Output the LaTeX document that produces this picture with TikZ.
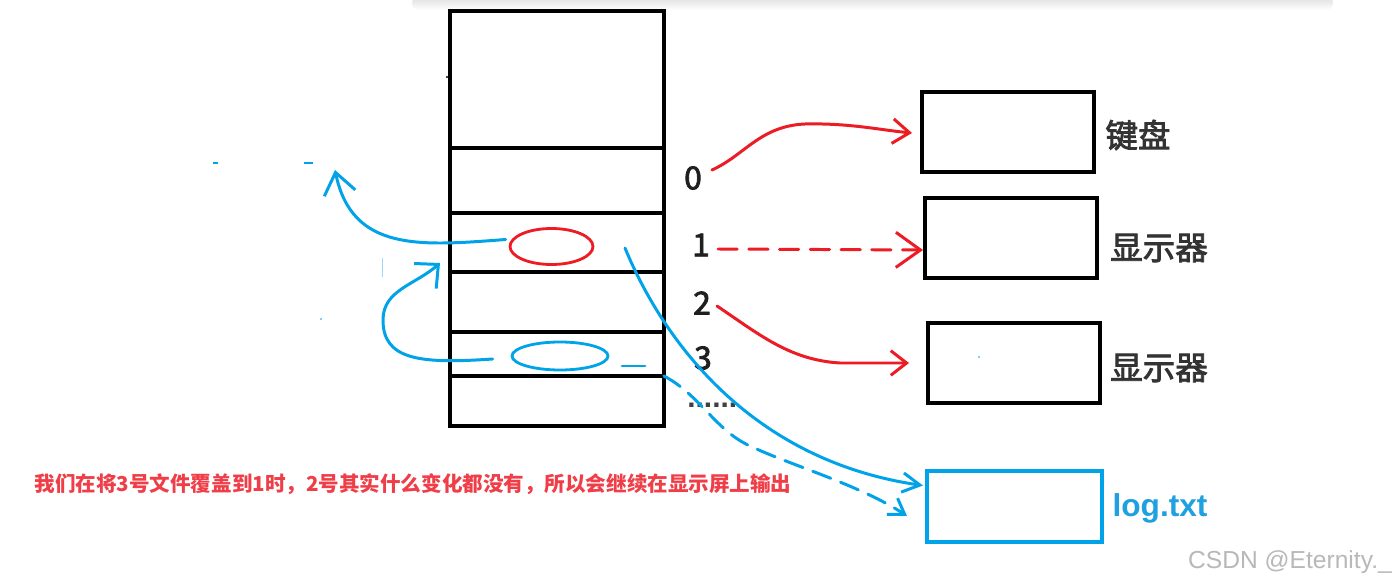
\documentclass[tikz,border=0pt]{standalone}
\usepackage{fontspec}
\setmainfont{Liberation Sans}
\newfontfamily\cjk{Noto Sans CJK SC}
\newfontfamily\cjkh{Noto Sans CJK SC}[FakeBold=2.5]
\usetikzlibrary{arrows.meta,shapes.geometric}
\definecolor{pred}{RGB}{237,28,36}
\definecolor{pblue}{RGB}{0,162,232}
\definecolor{tred}{RGB}{240,62,72}
\definecolor{tblue}{RGB}{30,160,225}
\tikzset{
  cell/.style={draw, line width=2pt, minimum width=4.28cm, inner sep=0pt, outer sep=0pt},
  dev/.style={draw, line width=2.3pt, minimum width=3.44cm, minimum height=1.6cm, inner sep=0pt, outer sep=0pt},
  lab/.style={font=\cjkh\fontsize{18.5pt}{20pt}\selectfont, text=black!80, inner sep=0pt},
  num/.style={font=\cjkh\fontsize{18pt}{20pt}\selectfont, text=black!88, inner sep=0pt},
  redln/.style={draw=pred, line width=1.7pt, line cap=round, line join=round},
  blueln/.style={draw=pblue, line width=1.7pt, line cap=round, line join=round},
  ring/.style={ellipse, draw, line width=1.6pt, inner sep=0pt},
}
\begin{document}
\begin{tikzpicture}[x=0.02cm, y=-0.02cm]
\useasboundingbox (0,0) rectangle (1400,587);
\fill[white] (0,0) rectangle (1400,587);
% top shadow
\shade[top color=black!14, bottom color=white, rounded corners=4pt] (412,-4) rectangle (1333,10);

% stack of cells
\node[cell, minimum height=2.74cm] (c0) at (557,79.5) {};
\node[cell, minimum height=1.30cm] (c1) at (557,180.5) {};
\node[cell, minimum height=1.18cm] (c2) at (557,242.5) {};
\node[cell, minimum height=1.20cm] (c3) at (557,302) {};
\node[cell, minimum height=0.88cm] (c4) at (557,354) {};
\node[cell, minimum height=1.00cm] (c5) at (557,401) {};
\fill[black] (447,77) circle (1.2);

% ellipses
\node[ring, draw=pred, minimum width=1.66cm, minimum height=0.72cm] (ered) at (551.5,246.5) {};
\node[ring, draw=pblue, minimum width=1.92cm, minimum height=0.56cm] (eblue) at (560,356) {};
\draw[blueln] (622,366) -- (645,366);

% devices
\node[dev] (kb) at (1008,132) {};
\node[dev] (d1) at (1011,238) {};
\node[dev] (d2) at (1014,363) {};
\node[dev, draw=pblue, minimum width=3.5cm, minimum height=1.42cm] (log) at (1014.5,506.5) {};
\fill[pblue] (979,357) circle (0.8);

\node[lab] (lkb) at (1138,135) {键盘};
\node[lab] (ld1) at (1159,248) {显示器};
\node[lab] (ld2) at (1159,368) {显示器};
\node[inner sep=0pt, text=tblue, font=\bfseries\fontsize{18pt}{20pt}\selectfont] (llog) at (1160,508) {log.txt};

% fd numbers
\node[num] (n0) at (693,178) {0};
\node[num] (n1) at (701,245) {1};
\node[num] (n2) at (702,303) {2};
\node[num] (n3) at (703,358) {3};
\node[inner sep=0pt, anchor=base west, text=black!75, font=\bfseries\fontsize{17pt}{18pt}\selectfont] (ndots) at (687,408) {......};

% red connectors
\draw[redln, -{Straight Barb[length=9.6pt,width=14pt]}]
  ([shift={(19,-8)}]n0.center) .. controls (745,155) and (760,126) .. (805,124)
  .. controls (850,123) and (880,130) .. ([shift={(-10,1)}]kb.west);
\draw[redln, dash pattern=on 11pt off 6.5pt, -{Straight Barb[length=14pt,width=20pt]}]
  ([shift={(17,4)}]n1.center) -- ([shift={(-2,12)}]d1.west);
\draw[redln, -{Straight Barb[length=9pt,width=14pt]}]
  ([shift={(15,3)}]n2.center) .. controls (760,335) and (790,360) .. (840,363)
  -- ([shift={(-19,0)}]d2.west);

% blue connectors
\coordinate (t1) at (335,170);
\coordinate (t2) at (440,263);
\coordinate (s3) at (625,248);
\coordinate (t4) at (907,516);
\draw[blueln, -{Straight Barb[length=12pt,width=18pt]}]
  ([shift={(-3,-7)}]ered.west) .. controls (420,246) and (352,252) .. (t1);
\draw[blueln, -{Straight Barb[length=10pt,width=19pt]}]
  ([shift={(-18,3)}]eblue.west) .. controls (420,364) and (383,360) .. (383,320)
  .. controls (383,290) and (415,285) .. (t2);
\draw[blueln, -{Straight Barb[length=10pt,width=11pt]}]
  (s3) .. controls (668,352) and (760,462) .. ([shift={(-4,-21)}]log.west);
\draw[blueln, dash pattern=on 11pt off 6pt, -{Straight Barb[length=8.5pt,width=11pt]}]
  (c5.north east) .. controls (700,395) and (715,430) .. (750,446)
  .. controls (790,465) and (860,485) .. (t4);

% stray marks
\draw[pblue, line width=1.2pt] (213,163) -- (218,163);
\draw[pblue, line width=1.2pt] (304,163) -- (313,163);
\draw[pblue!40, line width=0.5pt] (382,258) -- (382,277);
\fill[pblue] (321,319) circle (0.9);

% caption
\node[inner sep=0pt, text=tred, font=\cjk\bfseries\fontsize{11.7pt}{13pt}\selectfont] (cap) at (413,484)
  {我们在将3号文件覆盖到1时，2号其实什么变化都没有，所以会继续在显示屏上输出};
\node[inner sep=0pt, text=black!28, font=\fontsize{14pt}{16pt}\selectfont] (wm) at (1290,562) {CSDN @Eternity.\_};
\end{tikzpicture}
\end{document}
